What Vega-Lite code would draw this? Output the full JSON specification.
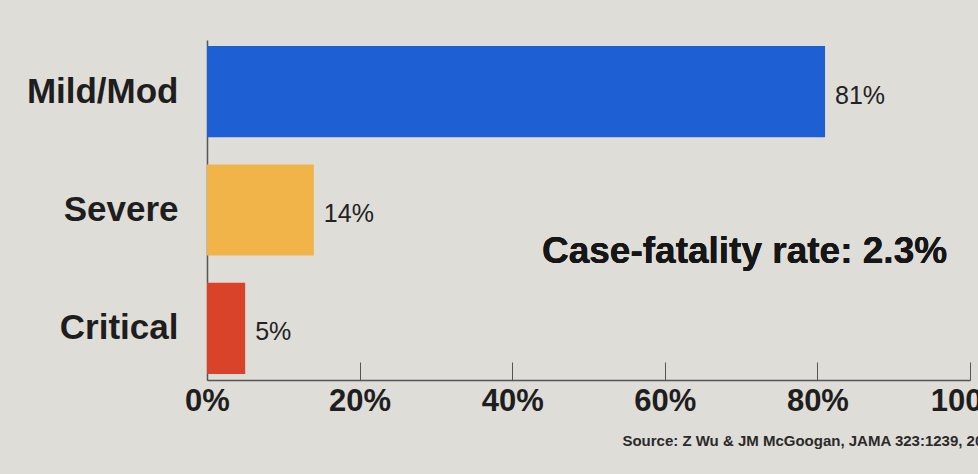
{
  "$schema": "https://vega.github.io/schema/vega-lite/v6.json",
  "width": 763,
  "height": 340,
  "autosize": {"type": "none"},
  "padding": {"left": 207, "top": 40, "right": 8, "bottom": 94},
  "background": "#dfddd8",
  "title": {
    "text": "Source: Z Wu & JM McGoogan, JAMA 323:1239, 2020",
    "orient": "bottom",
    "anchor": "start",
    "align": "left",
    "dx": 596,
    "offset": 18,
    "font": "Liberation Sans",
    "fontSize": 15,
    "fontWeight": "bold",
    "color": "#2a2a2a"
  },
  "config": {
    "view": {"stroke": null},
    "font": "Liberation Sans"
  },
  "data": {
    "values": [
      {"category": "Mild/Mod", "pct": 81, "label": "81%"},
      {"category": "Severe", "pct": 14, "label": "14%"},
      {"category": "Critical", "pct": 5, "label": "5%"}
    ]
  },
  "encoding": {
    "y": {
      "field": "category",
      "type": "nominal",
      "sort": ["Mild/Mod", "Severe", "Critical"],
      "scale": {"paddingInner": 0.23, "paddingOuter": 0.05},
      "axis": {
        "title": null,
        "ticks": false,
        "domainColor": "#555555",
        "domainWidth": 1.5,
        "labelFontSize": 35,
        "labelFontWeight": "bold",
        "labelColor": "#1e1e1e",
        "labelPadding": 29
      }
    }
  },
  "layer": [
    {
      "mark": {"type": "bar"},
      "encoding": {
        "x": {
          "field": "pct",
          "type": "quantitative",
          "scale": {"domain": [0, 100]},
          "axis": {
            "title": null,
            "values": [0, 20, 40, 60, 80, 100],
            "labelExpr": "datum.value + '%'",
            "labelFlush": false,
            "labelOverlap": false,
            "grid": false,
            "tickSize": -18,
            "tickColor": "#555555",
            "domainColor": "#555555",
            "domainWidth": 1.5,
            "labelFontSize": 31,
            "labelFontWeight": "bold",
            "labelColor": "#1e1e1e",
            "labelPadding": 24
          }
        },
        "color": {
          "field": "category",
          "type": "nominal",
          "scale": {
            "domain": ["Mild/Mod", "Severe", "Critical"],
            "range": ["#1f5fd4", "#f0b448", "#d9432a"]
          },
          "legend": null
        }
      }
    },
    {
      "mark": {"type": "text", "align": "left", "dx": 10, "dy": 4, "fontSize": 25, "color": "#222222"},
      "encoding": {
        "x": {"field": "pct", "type": "quantitative"},
        "text": {"field": "label"}
      }
    },
    {
      "mark": {"type": "text", "align": "right", "baseline": "middle", "fontSize": 37, "fontWeight": "bold", "color": "#161616", "dy": 42},
      "encoding": {
        "x": {"datum": 97, "type": "quantitative"},
        "y": {"datum": "Severe"},
        "text": {"value": "Case-fatality rate: 2.3%"}
      }
    }
  ]
}
